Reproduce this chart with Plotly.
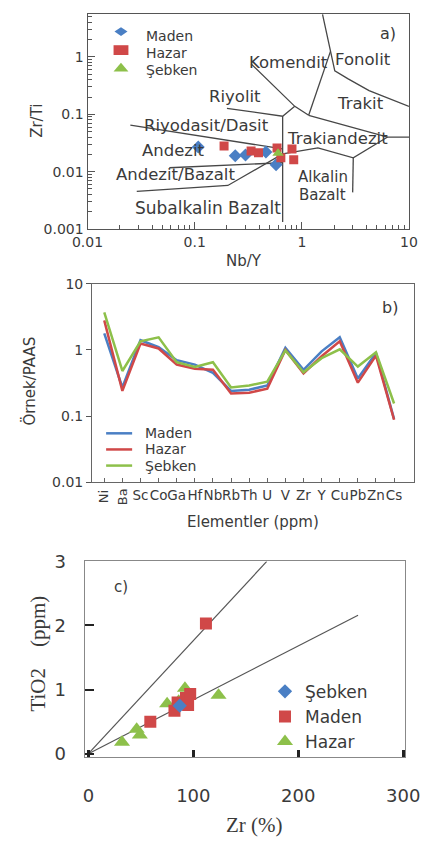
import plotly.graph_objects as go

W, H = 437, 848
def fx(p): return p / W
def fy(p): return 1 - p / H

SANS = "DejaVu Sans"
SERIF = "Liberation Serif"
TXT = "#3a3a3a"
BLUE = "#4a7fc4"
RED = "#d04848"
GREEN = "#8dc04a"

# ---------------- Panel a data: Zr/Ti vs Nb/Y ----------------
maden_a_nby = [0.108, 0.239, 0.298, 0.462, 0.575]
maden_a_zrti = [0.027, 0.019, 0.0196, 0.0221, 0.0132]
hazar_a_nby = [0.188, 0.336, 0.394, 0.587, 0.637, 0.809, 0.84]
hazar_a_zrti = [0.0281, 0.023, 0.0213, 0.0259, 0.0174, 0.0249, 0.0161]
sebken_a_nby = [0.6]
sebken_a_zrti = [0.021]

# field boundaries (Nb/Y, Zr/Ti)
fonolit_nby = [1.56, 1.83, 2.03, 2.68, 4.24, 10.0]
fonolit_zrti = [5.5, 1.37, 0.574, 0.418, 0.259, 0.1375]
komendit_nby = [0.336, 0.859, 1.158]
komendit_zrti = [0.757, 0.1375, 0.0962]
trakit_div_nby = [1.85, 1.158]
trakit_div_zrti = [1.25, 0.0962]
riyolit_nby = [0.2, 0.662, 0.859]
riyolit_zrti = [0.127, 0.0925, 0.1375]
subalk_nby = [0.662, 0.662]
subalk_zrti = [0.0925, 0.00132]
trakiand_up_nby = [1.158, 6.32, 10.0]
trakiand_up_zrti = [0.0962, 0.0401, 0.0401]
trakiand_low_nby = [6.32, 3.02, 1.413, 0.662, 0.204, 0.0288]
trakiand_low_zrti = [0.0401, 0.0174, 0.0259, 0.0204, 0.00574, 0.00452]
alkalin_nby = [3.02, 2.98]
alkalin_zrti = [0.0174, 0.00435]
riyodasit_nby = [0.0251, 0.662]
riyodasit_zrti = [0.0646, 0.0249]
andezit_nby = [0.058, 0.662]
andezit_zrti = [0.0117, 0.0143]

boundaries = [
    (fonolit_nby, fonolit_zrti), (komendit_nby, komendit_zrti),
    (trakit_div_nby, trakit_div_zrti), (riyolit_nby, riyolit_zrti),
    (subalk_nby, subalk_zrti), (trakiand_up_nby, trakiand_up_zrti),
    (trakiand_low_nby, trakiand_low_zrti), (alkalin_nby, alkalin_zrti),
    (riyodasit_nby, riyodasit_zrti), (andezit_nby, andezit_zrti),
]

# ---------------- Panel b data: spider diagram ----------------
elements = ["Ni", "Ba", "Sc", "Co", "Ga", "Hf", "Nb", "Rb", "Th", "U",
            "V", "Zr", "Y", "Cu", "Pb", "Zn", "Cs"]
maden_b = [1.78, 0.27, 1.4, 1.1, 0.7, 0.6, 0.45, 0.24, 0.25, 0.29,
           1.08, 0.5, 0.95, 1.55, 0.37, 0.9, 0.09]
hazar_b = [2.8, 0.24, 1.25, 1.05, 0.6, 0.52, 0.5, 0.22, 0.225, 0.26,
           1.0, 0.44, 0.8, 1.35, 0.32, 0.82, 0.088]
sebken_b = [3.7, 0.48, 1.35, 1.55, 0.65, 0.55, 0.65, 0.27, 0.29, 0.33,
            0.98, 0.46, 0.75, 1.02, 0.56, 0.92, 0.155]
rotated_ticks = ["Ni", "Ba"]

# ---------------- Panel c data: TiO2 vs Zr ----------------
sebken_c_zr = [87]
sebken_c_ti = [0.75]
maden_c_zr = [59, 82, 85, 93, 97, 95, 112]
maden_c_ti = [0.5, 0.67, 0.8, 0.87, 0.93, 0.76, 2.03]
hazar_c_zr = [32, 46, 49, 75, 86, 92, 124]
hazar_c_ti = [0.18, 0.38, 0.29, 0.78, 0.82, 1.02, 0.91]
line1_zr = [0, 170]
line1_ti = [0, 3.0]
line2_zr = [0, 257]
line2_ti = [0, 2.16]

series_names = ["Maden", "Hazar", "Şebken"]
series_colors = [BLUE, RED, GREEN]

fig = go.Figure()

# ---- panel a traces
for bx, by in boundaries:
    fig.add_trace(go.Scatter(x=bx, y=by, mode="lines", line=dict(color="#474747", width=1.3),
                             showlegend=False, hoverinfo="skip", xaxis="x", yaxis="y"))
fig.add_trace(go.Scatter(x=maden_a_nby, y=maden_a_zrti, mode="markers", name="Maden",
                         marker=dict(symbol="diamond", size=10, color=BLUE),
                         showlegend=False, xaxis="x", yaxis="y"))
fig.add_trace(go.Scatter(x=hazar_a_nby, y=hazar_a_zrti, mode="markers", name="Hazar",
                         marker=dict(symbol="square", size=9, color=RED),
                         showlegend=False, xaxis="x", yaxis="y"))
fig.add_trace(go.Scatter(x=sebken_a_nby, y=sebken_a_zrti, mode="markers", name="Şebken",
                         marker=dict(symbol="triangle-up", size=10, color=GREEN),
                         showlegend=False, xaxis="x", yaxis="y"))

# ---- panel b traces
for nm, vals, col in zip(series_names, [maden_b, hazar_b, sebken_b], series_colors):
    fig.add_trace(go.Scatter(x=elements, y=vals, mode="lines", name=nm,
                             line=dict(color=col, width=2.5), showlegend=False,
                             xaxis="x2", yaxis="y2"))

# ---- panel c traces
for lx, ly in [(line1_zr, line1_ti), (line2_zr, line2_ti)]:
    fig.add_trace(go.Scatter(x=lx, y=ly, mode="lines", line=dict(color="#555555", width=1.2),
                             showlegend=False, hoverinfo="skip", xaxis="x3", yaxis="y3"))
fig.add_trace(go.Scatter(x=hazar_c_zr, y=hazar_c_ti, mode="markers", name="Hazar",
                         marker=dict(symbol="triangle-up", size=14, color=GREEN),
                         xaxis="x3", yaxis="y3", legend="legend3"))
fig.add_trace(go.Scatter(x=maden_c_zr, y=maden_c_ti, mode="markers", name="Maden",
                         marker=dict(symbol="square", size=12, color=RED),
                         xaxis="x3", yaxis="y3", legend="legend3"))
fig.add_trace(go.Scatter(x=sebken_c_zr, y=sebken_c_ti, mode="markers", name="Şebken",
                         marker=dict(symbol="diamond", size=11, color=BLUE),
                         xaxis="x3", yaxis="y3", legend="legend3"))

tickfont = dict(family=SANS, size=14, color=TXT)
minor_log = dict(ticks="inside", ticklen=4, tickcolor="#555", dtick="D1", showgrid=False)

layout = dict(
    width=W, height=H, margin=dict(l=0, r=0, t=0, b=0),
    paper_bgcolor="white", plot_bgcolor="white",
    font=dict(family=SANS, color=TXT),
    # panel a
    xaxis=dict(domain=[fx(77), fx(423)], anchor="y", type="log", range=[-2, 1],
               tickvals=[0.01, 0.1, 1, 10], ticktext=["0.01", "0.1", "1", "10"],
               ticks="inside", ticklen=7, tickcolor="#555", minor=minor_log,
               showline=True, linecolor="#555", linewidth=1.2, mirror=True,
               showgrid=False, zeroline=False, tickfont=tickfont),
    yaxis=dict(domain=[fy(223), fy(3)], anchor="x", type="log", range=[-3, 0.75],
               tickvals=[0.001, 0.01, 0.1, 1], ticktext=["0.001", "0.01", "0.1", "1"],
               ticks="inside", ticklen=7, tickcolor="#555", minor=minor_log,
               showline=True, linecolor="#555", linewidth=1.2, mirror=True,
               showgrid=False, zeroline=False, tickfont=tickfont),
    # panel b
    xaxis2=dict(domain=[fx(82), fx(428)], anchor="y2", type="category",
                categoryorder="array", categoryarray=elements, range=[-0.667, 17.08],
                tickvals=elements, ticktext=["" if e in rotated_ticks else e for e in elements],
                tickangle=0, ticks="inside", ticklen=4, tickcolor="#666",
                showline=True, linecolor="#666", linewidth=1.2, mirror=True,
                showgrid=False, zeroline=False, tickfont=dict(family=SANS, size=13.5, color=TXT)),
    yaxis2=dict(domain=[fy(482), fy(279)], anchor="x2", type="log", range=[-2, 1],
                tickvals=[0.01, 0.1, 1, 10], ticktext=["0.01", "0.1", "1", "10"],
                ticks="outside", ticklen=5, tickcolor="#555",
                showline=True, linecolor="#666", linewidth=1.2, mirror=True,
                showgrid=False, zeroline=False, tickfont=tickfont),
    # panel c
    xaxis3=dict(domain=[fx(74), fx(419)], anchor="y3", range=[-3.5, 302],
                tickvals=[0, 100, 200, 300], ticks="inside", ticklen=7, tickwidth=3,
                tickcolor="#222", ticklabelstandoff=22,
                showline=True, linecolor="#888", linewidth=1.2, mirror=True,
                showgrid=False, zeroline=False,
                tickfont=dict(family=SANS, size=18, color=TXT)),
    yaxis3=dict(domain=[fy(763), fy(563)], anchor="x3", range=[-0.05, 3.0],
                tickvals=[0, 1, 2, 3], ticks="inside", ticklen=9, tickwidth=2,
                tickcolor="#222", ticklabelstandoff=14,
                showline=True, linecolor="#888", linewidth=1.2, mirror=True,
                showgrid=False, zeroline=False,
                tickfont=dict(family=SANS, size=18, color=TXT)),
    legend3=dict(x=fx(268), y=fy(678), xanchor="left", yanchor="top",
                 bgcolor="rgba(0,0,0,0)", font=dict(family=SANS, size=17, color=TXT),
                 tracegroupgap=0, traceorder="reversed"),
)
fig.update_layout(**layout)

ann = []
shapes = []
def A(text, x, y, size=16, family=SANS, angle=0, xanchor="center", yanchor="middle"):
    ann.append(dict(text=text, x=fx(x), y=fy(y), xref="paper", yref="paper", showarrow=False,
                    font=dict(family=family, size=size, color=TXT), textangle=angle,
                    xanchor=xanchor, yanchor=yanchor))

def poly(pts, color):
    d = "M " + " L ".join(f"{fx(px):.5f},{fy(py):.5f}" for px, py in pts) + " Z"
    shapes.append(dict(type="path", path=d, xref="paper", yref="paper",
                       fillcolor=color, line=dict(width=0)))

# ---- panel a legend (compact, as in the reference)
poly([(106, 21), (113, 16.5), (120, 21), (113, 25.5)], BLUE)
poly([(105, 35), (121, 35), (121, 45), (105, 45)], RED)
poly([(105, 62), (113, 53), (121, 62)], GREEN)
A("Maden", 138, 26, size=14, xanchor="left")
A("Hazar", 138, 43, size=14, xanchor="left")
A("Şebken", 138, 60, size=14, xanchor="left")

# ---- panel b legend
for i, (nm, col) in enumerate(zip(series_names, series_colors)):
    yy = 432 + 16.5 * i
    shapes.append(dict(type="line", xref="paper", yref="paper", x0=fx(97), x1=fx(125),
                       y0=fy(yy), y1=fy(yy), line=dict(color=col, width=2.5)))
    A(nm, 137, yy, size=14, xanchor="left")

# panel a labels
A("a)", 400, 23)
A("Komendit", 293, 53, size=16.5)
A("Fonolit", 374, 50, size=16.5)
A("Trakit", 371, 95, size=16.5)
A("Riyolit", 236, 87, size=16.5)
A("Riyodasit/Dasit", 205, 117, size=16.5)
A("Trakiandezit", 346, 130, size=16.5)
A("Andezit", 170, 143, size=16.5)
A("Andezit/Bazalt", 172, 167, size=16.5)
A("Alkalin", 330, 170, size=15)
A("Bazalt", 330, 188, size=15)
A("Subalkalin Bazalt", 207, 202, size=17)
A("Zr/Ti", 23, 112, size=15, angle=-90)
A("Nb/Y", 245, 256, size=15)
# panel b labels
A("b)", 403, 303)
A("Örnek/PAAS", 15, 378, size=15, angle=-90)
A("Elementler (ppm)", 255, 523, size=15)
for e in rotated_ticks:
    ann.append(dict(text=e, x=e, y=fy(497), xref="x2", yref="paper", showarrow=False,
                    font=dict(family=SANS, size=13, color=TXT), textangle=-90,
                    xanchor="center", yanchor="middle"))
# panel c labels
A("c)", 113, 589, size=15)
A("TiO2    (ppm)", 24, 657, size=21, family=SERIF, angle=-90)
A("Zr (%)", 257, 833, size=21, family=SERIF)

fig.update_layout(annotations=ann, shapes=shapes)
fig.write_html("out.html")
